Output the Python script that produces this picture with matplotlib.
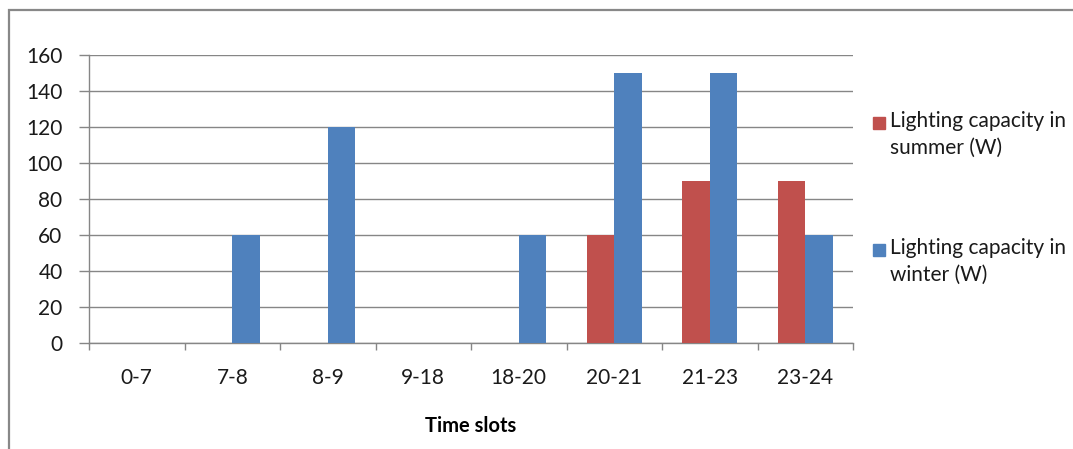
import numpy as np
import matplotlib.pyplot as plt
from matplotlib.patches import Rectangle

# Chart values
time_slots = ["0-7", "7-8", "8-9", "9-18", "18-20", "20-21", "21-23", "23-24"]
summer_w = [0, 0, 0, 0, 0, 60, 90, 90]
winter_w = [0, 60, 120, 0, 60, 150, 150, 60]
summer_label = "Lighting capacity in\nsummer (W)"
winter_label = "Lighting capacity in\nwinter (W)"

red = "#C0504D"
blue = "#4F81BD"
grey = "#868686"

plt.rcParams['font.family'] = ['Lato', 'DejaVu Sans']

W, H = 1073, 449
fig = plt.figure(figsize=(W / 100, H / 100), dpi=100)
ax = fig.add_axes([89 / W, 1 - 343 / H, (853 - 89) / W, (343 - 54.7) / H])

x = np.arange(len(time_slots))
bw = 1 / 3.5  # Excel gap width 150%
ax.bar(x - bw / 2, summer_w, bw, color=red, zorder=3)
ax.bar(x + bw / 2, winter_w, bw, color=blue, zorder=3)

ax.set_xlim(-0.5, len(time_slots) - 0.5)
ax.set_ylim(0, 160)
ax.set_yticks(range(0, 161, 20))
ax.grid(axis='y', color=grey, linewidth=1.0, zorder=0)

# ticks at category boundaries, labels at centres
ax.set_xticks(np.arange(len(time_slots) + 1) - 0.5)
ax.set_xticklabels([])
ax.set_xticks(x, minor=True)
ax.set_xticklabels(time_slots, minor=True)
ax.tick_params(axis='x', which='major', length=5, color=grey, width=1)
ax.tick_params(axis='x', which='minor', length=0, pad=18, labelsize=15, labelcolor='#1a1a1a')
ax.tick_params(axis='y', length=7, color=grey, width=1, pad=12, labelsize=15, labelcolor='#1a1a1a')

for side in ['top', 'right']:
    ax.spines[side].set_visible(False)
for side in ['left', 'bottom']:
    ax.spines[side].set_color(grey)
    ax.spines[side].set_linewidth(1.0)

ax.set_xlabel("Time slots", fontsize=14.5, fontweight='bold', labelpad=20)

# legend drawn by hand to match the spread-out layout
for ypix, color, label in [(123, red, summer_label), (250, blue, winter_label)]:
    fig.add_artist(Rectangle((873 / W, 1 - (ypix + 6) / H), 12 / W, 12 / H,
                             transform=fig.transFigure, color=color))
    fig.text(890 / W, 1 - (ypix - 12) / H, label, fontsize=15, va='top',
             ha='left', linespacing=1.42, color='#1a1a1a')

# outer chart frame
fig.add_artist(Rectangle((9 / W, -0.1), 1.2, 1 - 10 / H + 0.1,
                         transform=fig.transFigure, fill=False,
                         edgecolor='#888888', linewidth=1.6))

fig.savefig("out.png", dpi=100)
